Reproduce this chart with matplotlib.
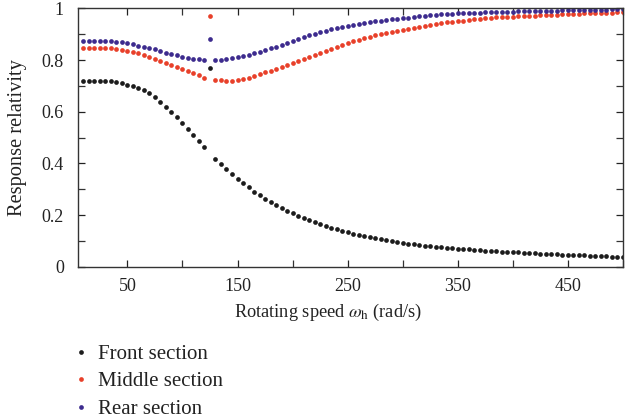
import numpy as np
import matplotlib
matplotlib.use("Agg")
import matplotlib.pyplot as plt
from matplotlib.ticker import MultipleLocator, FixedLocator, FixedFormatter

# rotating speed, rad/s (10 ... 500, step 5)
speed = list(range(10, 505, 5))

front = [
	0.720, 0.720, 0.720, 0.720, 0.719, 0.717, 0.714, 0.710, 0.705, 0.699,
	0.692, 0.683, 0.671, 0.656, 0.639, 0.620, 0.599, 0.578, 0.555, 0.532,
	0.509, 0.486, 0.463, 0.770, 0.418, 0.397, 0.377, 0.358, 0.340, 0.323,
	0.307, 0.291, 0.277, 0.263, 0.250, 0.238, 0.227, 0.217, 0.207, 0.198,
	0.189, 0.181, 0.173, 0.165, 0.158, 0.151, 0.145, 0.139, 0.134, 0.128,
	0.123, 0.118, 0.114, 0.110, 0.106, 0.102, 0.099, 0.095, 0.092, 0.089,
	0.086, 0.084, 0.082, 0.079, 0.077, 0.075, 0.073, 0.072, 0.070, 0.068,
	0.067, 0.065, 0.064, 0.062, 0.061, 0.060, 0.058, 0.057, 0.056, 0.055,
	0.054, 0.053, 0.052, 0.051, 0.050, 0.049, 0.048, 0.047, 0.047, 0.046,
	0.045, 0.044, 0.043, 0.042, 0.041, 0.040, 0.039, 0.038, 0.037,
]

middle = [
	0.847, 0.847, 0.847, 0.847, 0.846, 0.845, 0.842, 0.840, 0.836, 0.831,
	0.826, 0.819, 0.813, 0.805, 0.797, 0.790, 0.782, 0.773, 0.765, 0.758,
	0.749, 0.741, 0.729, 0.970, 0.723, 0.721, 0.720, 0.720, 0.722, 0.726,
	0.732, 0.738, 0.745, 0.752, 0.759, 0.766, 0.774, 0.781, 0.789, 0.797,
	0.805, 0.813, 0.820, 0.828, 0.836, 0.844, 0.851, 0.858, 0.866, 0.872,
	0.878, 0.884, 0.890, 0.896, 0.901, 0.905, 0.909, 0.913, 0.917, 0.921,
	0.925, 0.929, 0.933, 0.937, 0.940, 0.943, 0.946, 0.948, 0.951, 0.953,
	0.955, 0.957, 0.959, 0.961, 0.963, 0.965, 0.966, 0.967, 0.968, 0.969,
	0.970, 0.971, 0.972, 0.973, 0.974, 0.975, 0.976, 0.977, 0.978, 0.979,
	0.980, 0.981, 0.982, 0.983, 0.983, 0.984, 0.984, 0.985, 0.985,
]

rear = [
	0.874, 0.874, 0.874, 0.874, 0.873, 0.872, 0.869, 0.868, 0.865, 0.862,
	0.856, 0.851, 0.846, 0.841, 0.835, 0.828, 0.822, 0.818, 0.813, 0.809,
	0.805, 0.803, 0.800, 0.882, 0.800, 0.802, 0.804, 0.808, 0.812, 0.816,
	0.821, 0.826, 0.832, 0.838, 0.845, 0.852, 0.859, 0.867, 0.875, 0.882,
	0.889, 0.896, 0.902, 0.908, 0.914, 0.919, 0.924, 0.928, 0.932, 0.936,
	0.940, 0.943, 0.947, 0.950, 0.953, 0.955, 0.957, 0.959, 0.961, 0.964,
	0.967, 0.970, 0.972, 0.974, 0.975, 0.977, 0.978, 0.979, 0.981, 0.982,
	0.983, 0.983, 0.984, 0.985, 0.985, 0.986, 0.986, 0.987, 0.987, 0.988,
	0.988, 0.989, 0.989, 0.990, 0.990, 0.991, 0.991, 0.992, 0.992, 0.993,
	0.993, 0.994, 0.994, 0.995, 0.995, 0.995, 0.996, 0.996, 0.996,
]

labels = ["Front section", "Middle section", "Rear section"]
colors = ["#1c1c1c", "#e8402a", "#3d2b8e"]

x_labels = [50, 150, 250, 350, 450]
y_labels = [0, 0.2, 0.4, 0.6, 0.8, 1]

plt.rcParams["font.family"] = ["Liberation Serif", "DejaVu Serif"]
plt.rcParams["mathtext.fontset"] = "stix"
plt.rcParams["font.size"] = 13

fig = plt.figure(figsize=(6.33, 4.19), dpi=100)
ax = fig.add_axes([0.123, 0.3635, 0.861, 0.6165])

for series, label, color in zip([front, middle, rear], labels, colors):
	ax.plot(speed, series, linestyle="none", marker="o", markersize=3.4,
			markeredgewidth=0, color=color, label=label)

ax.set_xlim(5, 500)
ax.set_ylim(0, 1)

# ticks every 50 / 0.1, labels only on every other one
ax.xaxis.set_major_locator(FixedLocator(x_labels))
ax.xaxis.set_minor_locator(MultipleLocator(50))
ax.yaxis.set_major_locator(FixedLocator(y_labels))
ax.yaxis.set_major_formatter(FixedFormatter(["0", "0.2", "0.4", "0.6", "0.8", "1"]))
ax.yaxis.set_minor_locator(MultipleLocator(0.1))
ax.tick_params(which="both", direction="in", top=True, right=True, length=5, width=0.9, color="#333333")
ax.tick_params(axis="both", labelsize=13, colors="#222222")
ax.tick_params(axis="x", pad=8)
ax.tick_params(axis="y", pad=10)

for axis in ["top", "bottom", "left", "right"]:
	ax.spines[axis].set_linewidth(1.0)
	ax.spines[axis].set_color("#333333")

ax.set_xlabel(r"Rotating speed $\omega_\mathrm{h}$ (rad/s)", color="#222222", fontsize=13.2)
ax.xaxis.set_label_coords(0.459, -0.135)
ax.set_ylabel("Response relativity", color="#222222", fontsize=14.7)
ax.yaxis.set_label_coords(-0.093, 0.5)

legend = fig.legend(loc="upper left", bbox_to_anchor=(0.107, 0.198), frameon=False,
					borderaxespad=0, handlelength=0.5, handletextpad=0.55,
					labelspacing=0.38, fontsize=15)
for text in legend.get_texts():
	text.set_color("#222222")

plt.savefig("out.png", dpi=100)
plt.close()
